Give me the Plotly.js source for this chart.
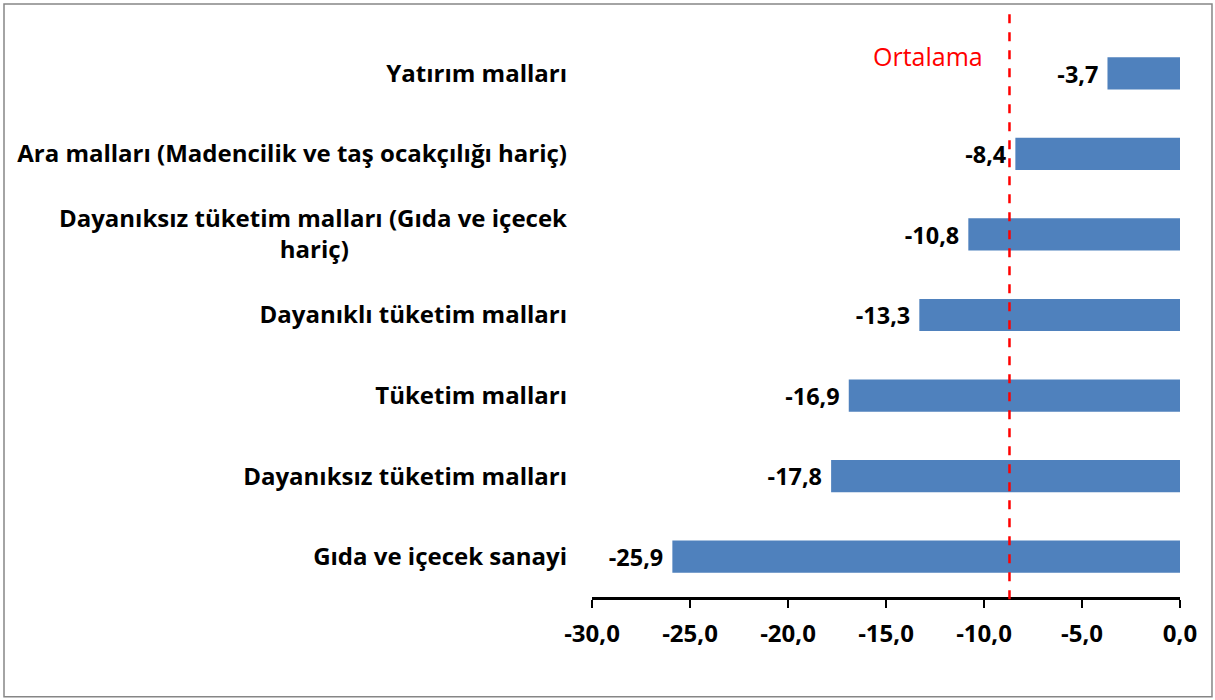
<!DOCTYPE html>
<html>
<head>
<meta charset="utf-8">
<script src="https://cdn.plot.ly/plotly-3.0.1.min.js"></script>
<style>
  html, body { margin: 0; padding: 0; background: #ffffff; }
  #chart { width: 1215px; height: 700px; }
</style>
</head>
<body>
<div id="chart"></div>
<script>
// ---- data ----
const categories = [
  "Yatırım malları",
  "Ara malları (Madencilik ve taş ocakçılığı hariç)",
  "Dayanıksız tüketim malları (Gıda ve içecek<br>hariç)" ,
  "Dayanıklı tüketim malları",
  "Tüketim malları",
  "Dayanıksız tüketim malları",
  "Gıda ve içecek sanayi"
];
const values = [-3.7, -8.4, -10.8, -13.3, -16.9, -17.8, -25.9];
const averageValue = -8.7;
const averageLabel = "Ortalama";
const xTickVals = [-30, -25, -20, -15, -10, -5, 0];
const xTickText = ["-30,0", "-25,0", "-20,0", "-15,0", "-10,0", "-5,0", "0,0"];

const FONT = "'Open Sans', 'Noto Sans', sans-serif";

// padding for centered second line of wrapped label
const NB = "\u00a0";
const displayCats = categories.map(c => {
  if (c.indexOf("<br>") >= 0) {
    const parts = c.split("<br>");
    return parts[0] + "<br>" + parts[1] + NB.repeat(35);
  }
  return c;
});

const trace = {
  type: "bar",
  orientation: "h",
  y: displayCats,
  x: values,
  width: 0.4,
  marker: { color: "#4F81BD", line: { width: 0 } },
  text: values.map(v => v.toFixed(1).replace(".", ",") + NB),
  textposition: "outside",
  textfont: { family: FONT, size: 24, color: "#000000", weight: "bold" },
  cliponaxis: false,
  hoverinfo: "skip"
};

const layout = {
  width: 1215,
  height: 700,
  margin: { l: 592, r: 35, t: 33, b: 103, pad: 0 },
  paper_bgcolor: "#ffffff",
  plot_bgcolor: "#ffffff",
  showlegend: false,
  separators: ",.",
  font: { family: FONT, color: "#000000" },
  xaxis: {
    range: [-30, 0],
    tickvals: xTickVals,
    ticktext: xTickText,
    showgrid: false,
    zeroline: false,
    showline: true,
    linecolor: "#000000",
    linewidth: 2.5,
    ticks: "outside",
    ticklen: 8,
    tickwidth: 2.5,
    tickcolor: "#000000",
    ticklabelstandoff: 6,
    tickfont: { family: FONT, size: 24, color: "#000000", weight: "bold" },
    fixedrange: true
  },
  yaxis: {
    type: "category",
    categoryorder: "array",
    categoryarray: displayCats,
    range: [6.5, -0.5],
    showgrid: false,
    zeroline: false,
    showline: false,
    ticks: "",
    ticklabelstandoff: 24,
    tickfont: { family: FONT, size: 24, color: "#000000", weight: "bold" },
    fixedrange: true
  },
  yaxis2: {
    overlaying: "y",
    side: "right",
    range: [6.5, -0.5],
    tickmode: "linear",
    tick0: -0.5,
    dtick: 1,
    showticklabels: false,
    showgrid: false,
    zeroline: false,
    showline: true,
    linecolor: "#000000",
    linewidth: 2.5,
    ticks: "inside",
    ticklen: 8,
    tickwidth: 2.5,
    tickcolor: "#000000",
    fixedrange: true
  },
  shapes: [
    {
      type: "line",
      xref: "x", yref: "paper",
      x0: averageValue, x1: averageValue,
      y0: -0.004, y1: 1.041,
      line: { color: "#FF0000", width: 2.5, dash: "dash" }
    },
    {
      type: "rect",
      xref: "paper", yref: "paper",
      x0: -1.0, x1: 1.0544, y0: -0.177, y1: 1.0514,
      line: { color: "#868686", width: 1.5 },
      fillcolor: "rgba(0,0,0,0)",
      layer: "below"
    }
  ],
  annotations: [
    {
      xref: "x", yref: "paper",
      x: averageValue, y: 1 - 23 / 564,
      xanchor: "right", yanchor: "middle",
      xshift: -24,
      text: averageLabel,
      showarrow: false,
      font: { family: FONT, size: 25, color: "#FF0000" }
    }
  ]
};

Plotly.newPlot("chart", [trace], layout, { displayModeBar: false, staticPlot: true });
</script>
</body>
</html>
